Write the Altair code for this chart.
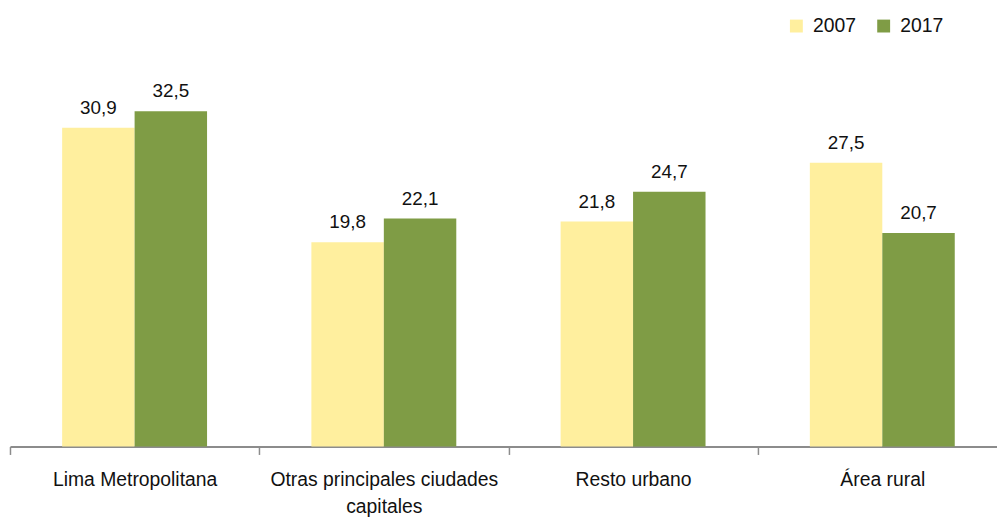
import altair as alt
import pandas as pd

categories = ["Lima Metropolitana", "Otras principales ciudades capitales", "Resto urbano", "Área rural"]
years = ["2007", "2017"]
v2007 = [30.9, 19.8, 21.8, 27.5]
v2017 = [32.5, 22.1, 24.7, 20.7]

rows = []
for c, a, b in zip(categories, v2007, v2017):
    rows.append({"cat": c, "year": "2007", "val": a, "lab": f"{a:.1f}".replace(".", ",")})
    rows.append({"cat": c, "year": "2017", "val": b, "lab": f"{b:.1f}".replace(".", ",")})
df = pd.DataFrame(rows)

FONT = "Liberation Sans, Arial, sans-serif"

x = alt.X("cat:N", sort=categories, title=None,
          scale=alt.Scale(domain=categories, range=[0, 1005], paddingInner=0, paddingOuter=0),
          axis=alt.Axis(labelAngle=0, tickBand="extent", tickSize=8, tickColor="#8c8c8c", tickWidth=1.5,
                        domainColor="#8c8c8c", domainWidth=2, labelFont=FONT, labelFontSize=19.5,
                        labelColor="#111111", labelPadding=16, labelLineHeight=28, labelLimit=0,
                        labelExpr="datum.label == 'Otras principales ciudades capitales' ? ['Otras principales ciudades', 'capitales'] : datum.label"))
xo = alt.XOffset("year:N", sort=years, scale=alt.Scale(paddingInner=0, paddingOuter=0.72))
y = alt.Y("val:Q", scale=alt.Scale(domain=[0, 40]), axis=None)

bars = alt.Chart(df).mark_bar(stroke=None).encode(
    x=x, xOffset=xo, y=y,
    color=alt.Color("year:N", sort=years,
                    scale=alt.Scale(domain=years, range=["#FFEF9E", "#7F9C45"]),
                    legend=alt.Legend(title=None, orient="none", legendX=783, legendY=-18,
                                      direction="horizontal", symbolType="square", symbolSize=169,
                                      symbolStrokeWidth=0, symbolOpacity=1, labelFont=FONT, labelFontSize=19.5,
                                      labelColor="#111111", labelOffset=7, columnPadding=18, padding=0)),
)

texts = alt.Chart(df).mark_text(baseline="alphabetic", dy=-14, fontSize=19, font=FONT, color="#111111").encode(
    x=x, xOffset=xo, y=y, text="lab:N"
)

chart = alt.layer(bars, texts).properties(
    width=995, height=416,
    padding={"top": 24, "left": 2, "right": 0, "bottom": 72},
    autosize=alt.AutoSizeParams(type="none"),
).configure_view(stroke=None)

chart.save("out.html", embed_options={"renderer": "svg", "actions": False})
